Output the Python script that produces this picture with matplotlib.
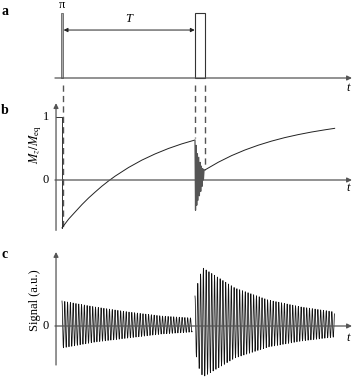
import numpy as np
import matplotlib
matplotlib.use("Agg")
import matplotlib.pyplot as plt
from matplotlib.patches import Rectangle
from matplotlib import font_manager

serif_name = 'Liberation Serif'
avail = {f.name for f in font_manager.fontManager.ttflist}
if serif_name not in avail:
    serif_name = 'DejaVu Serif'
plt.rcParams['font.family'] = 'serif'
plt.rcParams['font.serif'] = [serif_name, 'DejaVu Serif']
plt.rcParams['mathtext.fontset'] = 'stix'

# ---------------- data (time in units of T) ----------------
pulse_starts = [0.0, 1.0]
pulse_widths = [0.015, 0.075]
pulse_heights = [1.0, 1.0]

# Mz/Meq recovery after pi pulse
mz1_t = [0.0, 0.05, 0.1, 0.15, 0.2, 0.25, 0.3, 0.35, 0.4, 0.5, 0.6, 0.7, 0.8, 0.9, 1.0]
mz1_v = [-0.76, -0.62, -0.505, -0.39, -0.285, -0.19, -0.098, -0.015, 0.062, 0.198, 0.315, 0.414, 0.50, 0.573, 0.635]
# ringing during second pulse
ring_t = [1.0, 1.004, 1.008, 1.013, 1.018, 1.023, 1.028, 1.033, 1.038, 1.043, 1.048, 1.053, 1.058, 1.063, 1.068, 1.075]
ring_v = [0.62, -0.48, 0.55, -0.40, 0.42, -0.32, 0.36, -0.25, 0.28, -0.18, 0.22, -0.10, 0.18, 0.0, 0.16, 0.16]
# recovery after second pulse
mz2_t = [1.075, 1.175, 1.275, 1.375, 1.475, 1.575, 1.675, 1.775, 1.875, 1.975, 2.05]
mz2_v = [0.16, 0.282, 0.387, 0.476, 0.552, 0.617, 0.673, 0.720, 0.761, 0.796, 0.82]

# signal envelopes (a.u.)
sig1_t = [0.0, 0.25, 0.5, 0.75, 0.98]
sig1_top = [25, 19, 14, 10, 8]
sig1_bot = [22, 16, 12, 8, 6]
sig2_t = [1.0, 1.03, 1.06, 1.3, 1.55, 1.8, 2.05]
sig2_top = [30, 48, 58, 38, 26, 19, 14]
sig2_bot = [25, 42, 51, 32, 21, 15, 11]
carrier_period = 0.021

# ---------------- figure ----------------
W, H = 355, 378
fig = plt.figure(figsize=(W / 100, H / 100), dpi=100)

def add(top_px, bot_px):
    return fig.add_axes([0, 1 - bot_px / H, 1, (bot_px - top_px) / H])

xlim = (-62 / 133, 293 / 133)
ax_color = '#555555'
arrow_kw = dict(arrowstyle='-|>', color=ax_color, lw=0.9, mutation_scale=7, shrinkA=0, shrinkB=0)

# panel a
axa = add(0, 95)
axa.set_xlim(*xlim)
axa.set_ylim(-(95 - 78) / 65, 78 / 65)
axa.axis('off')
axa.annotate('', xy=(2.18, 0), xytext=(-0.053, 0), arrowprops=arrow_kw)
axa.add_patch(Rectangle((pulse_starts[0] - 0.004, 0), pulse_widths[0], pulse_heights[0],
                        facecolor='#aaaaaa', edgecolor='#666666', lw=0.6))
axa.add_patch(Rectangle((pulse_starts[1], 0), pulse_widths[1], pulse_heights[1],
                        facecolor='none', edgecolor='#333333', lw=0.8))
axa.annotate('', xy=(pulse_starts[0] + 0.012, 0.738), xytext=(pulse_starts[1] - 0.002, 0.738),
             arrowprops=dict(arrowstyle='<|-|>', color='#222222', lw=0.7, mutation_scale=6,
                             shrinkA=0, shrinkB=0))
axa.text(0.5, 0.9, 'T', style='italic', fontsize=9, ha='center', va='center')
axa.text(0.0, 1.12, 'π', fontsize=9, ha='center', va='center')
axa.text(2.15, -0.15, 't', style='italic', fontsize=9, ha='center', va='center')
axa.text(-0.43, 1.03, 'a', fontweight='bold', fontsize=10, ha='center', va='center')

# panel b
axb = add(95, 235)
axb.set_xlim(*xlim)
axb.set_ylim(-(235 - 180) / 63, (180 - 95) / 63)
axb.axis('off')
axb.annotate('', xy=(2.18, 0), xytext=(-0.053, 0), arrowprops=arrow_kw)
axb.annotate('', xy=(-0.045, 1.22), xytext=(-0.045, -0.8), arrowprops=arrow_kw)
dash_kw = dict(color='#555555', lw=1.0, ls=(0, (4.5, 3)), clip_on=False)
axb.plot([0.006, 0.006], [1.508, -0.74], **dash_kw)
axb.plot([1.0, 1.0], [1.508, 0.66], **dash_kw)
axb.plot([1.075, 1.075], [1.508, 0.2], **dash_kw)
axb.plot([-0.045, 0.0, 0.0], [1.0, 1.0, mz1_v[0]], color='#333333', lw=0.7)
axb.plot(mz1_t, mz1_v, color='#222222', lw=0.7)
axb.plot(ring_t, ring_v, color='#555555', lw=0.9)
axb.plot(mz2_t, mz2_v, color='#222222', lw=0.7)
axb.text(-0.12, 1.0, '1', fontsize=9, ha='center', va='center')
axb.text(-0.12, 0.0, '0', fontsize=9, ha='center', va='center')
axb.text(-0.2, 0.56, r'$M_z/M_\mathrm{eq}$', fontsize=9, ha='center', va='center', rotation=90)
axb.text(2.15, -0.13, 't', style='italic', fontsize=9, ha='center', va='center')
axb.text(-0.43, 1.1, 'b', fontweight='bold', fontsize=10, ha='center', va='center')

# panel c
axc = add(235, 378)
axc.set_xlim(*xlim)
axc.set_ylim(-(378 - 326), 326 - 235)
axc.axis('off')
axc.annotate('', xy=(2.18, 0), xytext=(-0.053, 0), arrowprops=arrow_kw)
axc.annotate('', xy=(-0.045, 74), xytext=(-0.045, -39), arrowprops=arrow_kw)

def fid(t_knots, top, bot, t0):
    t = np.arange(t_knots[0], t_knots[-1], carrier_period / 12)
    up = np.interp(t, t_knots, top)
    lo = np.interp(t, t_knots, bot)
    c = np.cos(2 * np.pi * (t - t0) / carrier_period)
    y = np.where(c >= 0, up * c, lo * c)
    return t, y

t1, y1 = fid(sig1_t, sig1_top, sig1_bot, 0.0)
t2, y2 = fid(sig2_t, sig2_top, sig2_bot, 1.0)
axc.plot(t1, y1, color='#111111', lw=0.55)
axc.plot(t2, y2, color='#111111', lw=0.55)
axc.text(-0.12, 0, '0', fontsize=9, ha='center', va='center')
axc.text(-0.2, 26, 'Signal (a.u.)', fontsize=9, ha='center', va='center', rotation=90)
axc.text(2.15, -12, 't', style='italic', fontsize=9, ha='center', va='center')
axc.text(-0.43, 71, 'c', fontweight='bold', fontsize=10, ha='center', va='center')

fig.savefig('out.png', dpi=100, facecolor='white')
